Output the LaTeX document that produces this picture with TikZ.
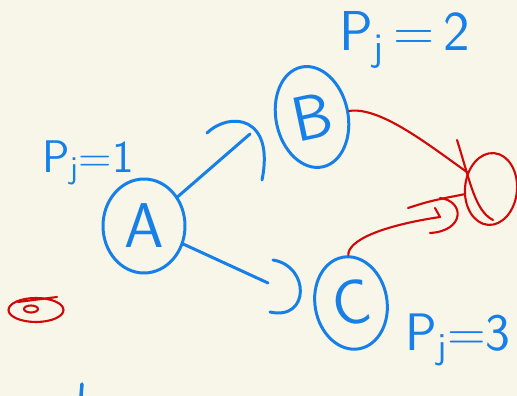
\documentclass[tikz,border=0pt]{standalone}
\usetikzlibrary{shapes.geometric}
\definecolor{paper}{RGB}{248,245,233}
\definecolor{inkblue}{RGB}{22,128,232}
\definecolor{inkred}{RGB}{208,8,8}

\begin{document}
\begin{tikzpicture}[line cap=round, line join=round,
    blueink/.style={draw=inkblue, line width=1.7pt},
    redink/.style={draw=inkred, line width=1.2pt},
    job/.style={blueink, ellipse, inner sep=0pt, text=inkblue,
        font=\sffamily\fontsize{36}{36}\selectfont},
    prio/.style={text=inkblue, inner sep=0pt, font=\sffamily\fontsize{26}{28}\selectfont}]
    % Paper
    \fill[paper] (0,0) rectangle (10.34,7.92);
    \useasboundingbox (0,0) rectangle (10.34,7.92);

    % Jobs
    \node[job, minimum width=1.64cm, minimum height=1.88cm] (A) at (2.88,3.40) {A};
    \node[job, minimum width=1.44cm, minimum height=2.04cm, rotate=12] (B) at (6.24,5.58) {B};
    \node[job, minimum width=1.44cm, minimum height=1.86cm, rotate=10] (C) at (7.02,1.86) {C};

    % Priorities
    \node[prio] (pA) at (1.76,4.66) {P\textsubscript{j}=1};
    \node[prio, font=\sffamily\fontsize{32}{34}\selectfont] (pB) at (8.10,7.12) {P\textsubscript{j}\,=\,2};
    \node[prio, font=\sffamily\fontsize{30}{32}\selectfont] (pC) at (9.16,1.12) {P\textsubscript{j}=3};

    % Edges out of A
    \coordinate (AB) at (5.00,5.24);
    \coordinate (AC) at (5.36,2.26);
    \draw[blueink] (A) -- (AB);
    \draw[blueink] (A) -- (AC);

    % Cut marks in front of B and C
    \draw[blueink] (4.14,5.26) .. controls (4.6,5.7) and (5.5,5.6) .. (5.24,4.32);
    \draw[blueink] (5.46,2.72) .. controls (6.2,2.6) and (6.2,1.5) .. (5.40,1.68);

    % Sink
    \node[redink, ellipse, minimum width=1.04cm, minimum height=1.44cm, rotate=-5] (S) at (9.82,4.14) {};
    \draw[redink] (9.14,5.12) .. controls (9.4,4.3) and (9.5,3.7) .. (9.86,3.52);

    % Edges into the sink
    \draw[redink] (B) .. controls (7.6,5.8) and (8.6,5.0) .. (S);
    \coordinate (CS) at (8.80,3.58);
    \draw[redink] (C) .. controls (6.95,3.1) and (7.6,3.4) .. (CS) -- ++(-0.1,0.18);
    \draw[redink] (8.80,3.96) .. controls (9.3,3.9) and (9.3,3.3) .. (8.60,3.26);
    \coordinate (CS2) at (8.16,3.76);
    \draw[redink] (CS2) .. controls (8.6,3.9) .. (S);

    % Scribble on the left
    \draw[redink] (0.72,1.72) ellipse (0.55 and 0.24);
    \draw[redink] (0.36,1.88) -- (1.14,1.98);
    \draw[redink] (0.62,1.74) ellipse (0.14 and 0.07);

    % Stub at the bottom
    \draw[blueink, line width=2pt] (1.62,0) -- (1.64,0.24);
\end{tikzpicture}
\end{document}
